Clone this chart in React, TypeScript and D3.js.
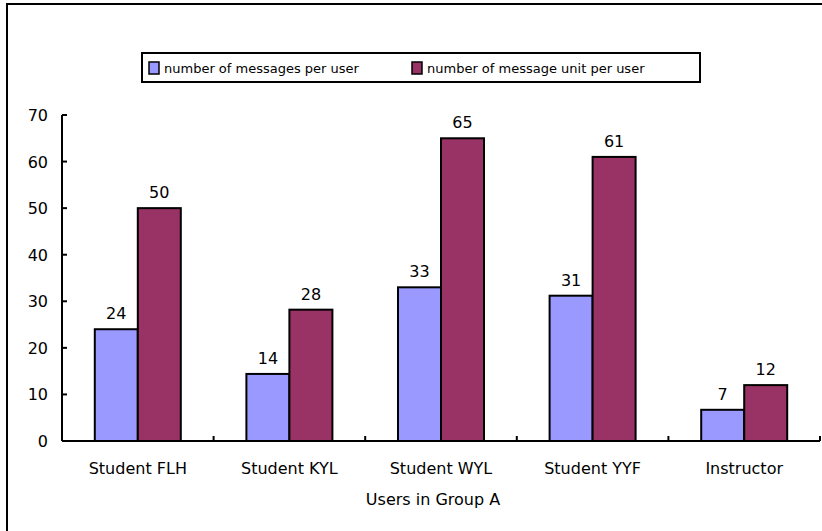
import React from "react";
import * as d3 from "d3";

const categories = ["Student FLH", "Student KYL", "Student WYL", "Student YYF", "Instructor"];
const seriesNames = ["number of messages per user", "number of message unit per user"];
const messagesPerUser = [24, 14.4, 33, 31.2, 6.7];
const unitsPerUser = [50, 28.2, 65, 61, 12];
const yTicks = [0, 10, 20, 30, 40, 50, 60, 70];
const colors = ["#9999FF", "#993366"];
const xTitle = "Users in Group A";

export default function App() {
  const W = 822, H = 531;
  const x0 = 62, x1 = 820, yTop = 115, yBot = 441;
  const x = d3.scaleBand().domain(categories).range([x0, x1]);
  const y = d3.scaleLinear().domain([0, 70]).range([yBot, yTop]);
  const barW = 43;
  const font = "Verdana, 'DejaVu Sans', sans-serif";
  const series = [messagesPerUser, unitsPerUser];
  return (
    <svg width={W} height={H} style={{ position: "absolute", left: 0, top: 0, background: "#fff" }} fontFamily={font}>
      <rect x={0} y={0} width={W} height={H} fill="#fff" />
      <path d="M7,531 L7,4 L822,4" fill="none" stroke="#000" strokeWidth={2} />
      {/* legend */}
      <rect x={142} y={53} width={558} height={29} fill="#fff" stroke="#000" strokeWidth={2} />
      {seriesNames.map((n, i) => {
        const lx = i === 0 ? 149 : 412;
        return (
          <g key={n}>
            <rect x={lx} y={62} width={10} height={12} fill={colors[i]} stroke="#000" strokeWidth={1.5} />
            <text x={lx + 15} y={73} fontSize={13} fill="#000">{n}</text>
          </g>
        );
      })}
      {/* bars */}
      {categories.map((c, ci) => {
        const cx = (x(c) as number) + x.bandwidth() / 2;
        return series.map((s, si) => {
          const bx = cx - barW + si * barW;
          const v = s[ci];
          return (
            <g key={c + si}>
              <rect x={bx} y={y(v)} width={barW} height={yBot - y(v)} fill={colors[si]} stroke="#000" strokeWidth={2} />
              <text x={bx + barW / 2} y={y(v) - 10} textAnchor="middle" fontSize={16} fill="#000">{d3.format(".0f")(v)}</text>
            </g>
          );
        });
      })}
      {/* y axis */}
      <line x1={x0} x2={x0} y1={yTop} y2={yBot} stroke="#000" strokeWidth={2} />
      {yTicks.map((t) => (
        <g key={t}>
          <line x1={x0} x2={x0 + 5} y1={y(t)} y2={y(t)} stroke="#000" strokeWidth={2} />
          <text x={48} y={y(t) + 6} textAnchor="end" fontSize={16} fill="#000">{t}</text>
        </g>
      ))}
      {/* x axis */}
      <line x1={x0} x2={x1} y1={yBot} y2={yBot} stroke="#000" strokeWidth={2} />
      {categories.map((c) => {
        const right = (x(c) as number) + x.bandwidth();
        return <line key={"t" + c} x1={right} x2={right} y1={yBot} y2={yBot - 5} stroke="#000" strokeWidth={2} />;
      })}
      {categories.map((c) => (
        <text key={"l" + c} x={(x(c) as number) + x.bandwidth() / 2} y={474} textAnchor="middle" fontSize={16} fill="#000">{c}</text>
      ))}
      <text x={(x0 + x1) / 2 - 8} y={505} textAnchor="middle" fontSize={16} fill="#000">{xTitle}</text>
    </svg>
  );
}
